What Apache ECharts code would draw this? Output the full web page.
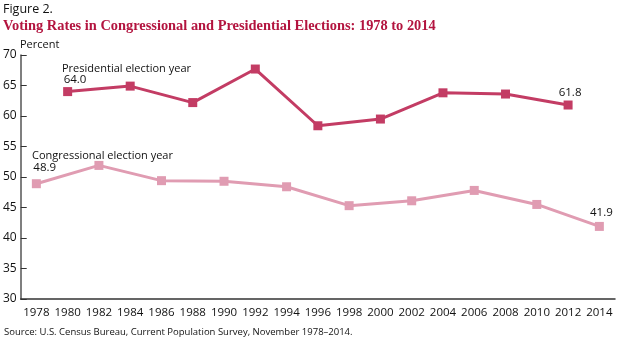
<!DOCTYPE html>
<html><head><meta charset="utf-8">
<script src="https://cdn.jsdelivr.net/npm/echarts@6/dist/echarts.min.js"></script>
<style>html,body{margin:0;padding:0;background:#fff}#c{width:621px;height:345px}</style>
</head><body><div id="c"></div>
<script>
const years = ['1978','1980','1982','1984','1986','1988','1990','1992','1994','1996','1998','2000','2002','2004','2006','2008','2010','2012','2014'];
const presidential = [null,64.0,null,64.9,null,62.2,null,67.7,null,58.4,null,59.5,null,63.8,null,63.6,null,61.8,null];
const congressional = [48.9,null,51.9,null,49.4,null,49.3,null,48.4,null,45.3,null,46.1,null,47.8,null,45.5,null,41.9];
const yTicks = [30,35,40,45,50,55,60,65,70];

const F = '"Open Sans", "DejaVu Sans", sans-serif';
const labelCfg = {
  pres: {1:{align:'left',offset:[-4,0],distance:1}, 17:{align:'center',offset:[2,0],distance:2}},
  cong: {0:{align:'left',offset:[-3,0],distance:5}, 18:{align:'center',offset:[2,0],distance:3}}
};
function mk(arr, cfg) {
  return arr.map((v,i) => {
    if (v === null) return null;
    const c = cfg[i];
    if (c) return {value:v, label:{show:true, position:'top', align:c.align, offset:c.offset, distance:c.distance,
      formatter: p => Number(p.value).toFixed(1), color:'#111', fontFamily:F, fontSize:11.5}};
    return v;
  });
}
const chart = echarts.init(document.getElementById('c'));
chart.setOption({
  animation:false,
  grid:{left:20,right:6,top:55,bottom:46,containLabel:false},
  xAxis:{type:'category',data:years,boundaryGap:true,
    axisLine:{lineStyle:{color:'#333',width:1.5}},
    axisTick:{inside:true,alignWithLabel:true,length:5,lineStyle:{color:'#333'}},
    axisLabel:{color:'#111',fontFamily:F,fontSize:11.5,margin:8,interval:0}},
  yAxis:{type:'value',min:30,max:70,interval:5,
    axisLine:{show:true,lineStyle:{color:'#555',width:1.5}},
    axisTick:{show:true,inside:true,length:6,lineStyle:{color:'#333'}},
    splitLine:{show:false},
    axisLabel:{color:'#111',fontFamily:F,fontSize:12,margin:4}},
  series:[
    {name:'Presidential election year',type:'line',connectNulls:true,data:mk(presidential,labelCfg.pres),
      symbol:'rect',symbolSize:9,lineStyle:{color:'#c33c64',width:3},itemStyle:{color:'#c33c64'},
      label:{show:false}},
    {name:'Congressional election year',type:'line',connectNulls:true,data:mk(congressional,labelCfg.cong),
      symbol:'rect',symbolSize:9,lineStyle:{color:'#e09cb2',width:3},itemStyle:{color:'#e09cb2'},
      label:{show:false}}
  ],
  graphic:[
    {type:'text',left:3,top:3,style:{text:'Figure 2.',fill:'#111',font:'12.5px '+F}},
    {type:'text',left:3,top:19,style:{text:'Voting Rates in Congressional and Presidential Elections: 1978 to 2014',fill:'#b3143f',font:'bold 14.4px "Liberation Serif", serif'}},
    {type:'text',left:20,top:39,style:{text:'Percent',fill:'#111',font:'11px '+F}},
    {type:'text',left:62,top:63,style:{text:'Presidential election year',fill:'#111',font:'11px '+F}},
    {type:'text',left:32,top:150,style:{text:'Congressional election year',fill:'#111',font:'11px '+F}},
    {type:'text',left:4,top:327,style:{text:'Source: U.S. Census Bureau, Current Population Survey, November 1978–2014.',fill:'#111',font:'9.5px '+F}}
  ]
});
</script></body></html>
